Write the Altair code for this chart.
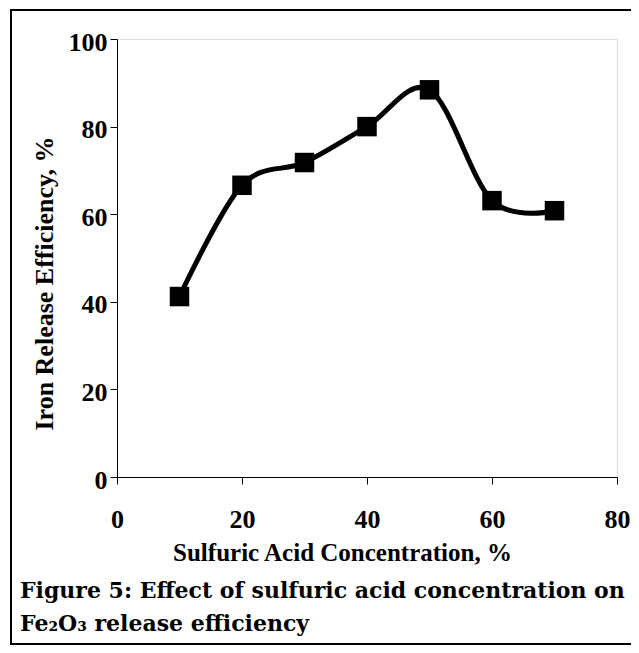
import altair as alt
import pandas as pd

# ---- data ----
concentration = [10, 20, 30, 40, 50, 60, 70]
efficiency = [41.2, 66.6, 71.8, 80.0, 88.4, 63.1, 60.8]
x_ticks = [0, 20, 40, 60, 80]
y_ticks = [0, 20, 40, 60, 80, 100]
x_title = "Sulfuric Acid Concentration, %"
y_title = "Iron Release Efficiency, %"
caption = [
    "Figure 5: Effect of sulfuric acid concentration on",
    "Fe\u2082O\u2083 release efficiency",
]

df = pd.DataFrame({"conc": concentration, "eff": efficiency})

AX_FONT = "Liberation Serif"
CAP_FONT = "DejaVu Serif"

x_enc = alt.X(
    "conc:Q",
    scale=alt.Scale(domain=[0, 80], nice=False),
    axis=alt.Axis(
        values=x_ticks, title=x_title, grid=False,
        tickSize=7, tickColor="black", tickWidth=1,
        domainColor="black", domainWidth=1,
        labelFont=AX_FONT, labelFontWeight="bold", labelFontSize=26,
        labelColor="black", labelBaseline="alphabetic", labelPadding=43,
        labelFlush=False,
        titleFont=AX_FONT, titleFontWeight="bold", titleFontSize=25,
        titleColor="black", titleX=225, titleY=83,
        titleBaseline="alphabetic", titleAlign="center",
    ),
)
y_enc = alt.Y(
    "eff:Q",
    scale=alt.Scale(domain=[0, 100], nice=False),
    axis=alt.Axis(
        values=y_ticks, title=y_title, grid=False,
        tickSize=7, tickColor="black", tickWidth=1,
        domainColor="black", domainWidth=1,
        labelFont=AX_FONT, labelFontWeight="bold", labelFontSize=26,
        labelColor="black", labelBaseline="alphabetic", labelOffset=11,
        labelPadding=3, labelFlush=False,
        titleFont=AX_FONT, titleFontWeight="bold", titleFontSize=26,
        titleColor="black", titleX=-65, titleY=244,
        titleBaseline="alphabetic", titleAlign="center", titleAngle=270,
    ),
)

base = alt.Chart(df)
line = base.mark_line(color="black", strokeWidth=5, interpolate="cardinal").encode(x=x_enc, y=y_enc)
pts = base.mark_point(shape="square", filled=True, color="black", size=380, opacity=1).encode(x="conc:Q", y="eff:Q")

# outer figure border (decoration): top, left and bottom edges; the right edge lies off the page
one = pd.DataFrame({"k": [0]})
border_top = alt.Chart(one).mark_rule(color="black", strokeWidth=2).encode(
    x=alt.value(-107), x2=alt.value(560), y=alt.value(-29)
)
border_left = alt.Chart(one).mark_rule(color="black", strokeWidth=2).encode(
    x=alt.value(-106), y=alt.value(-30), y2=alt.value(606)
)
border_bottom = alt.Chart(one).mark_rule(color="black", strokeWidth=2).encode(
    x=alt.value(-107), x2=alt.value(560), y=alt.value(605)
)

chart = alt.layer(line, pts, border_top, border_left, border_bottom).properties(
    width=500,
    height=438,
    autosize=alt.AutoSizeParams(type="none"),
    padding={"left": 109, "top": 31, "right": 14, "bottom": 168},
    title=alt.TitleParams(
        text=caption, orient="bottom", anchor="start", frame="group",
        font=CAP_FONT, fontWeight="bold", fontSize=22, lineHeight=33,
        color="black", dx=-97, offset=-48, baseline="alphabetic",
    ),
).configure_view(
    stroke="#888888", strokeWidth=1
).configure(background="white")

chart.save("out.html", embed_options={"renderer": "svg", "actions": False})
